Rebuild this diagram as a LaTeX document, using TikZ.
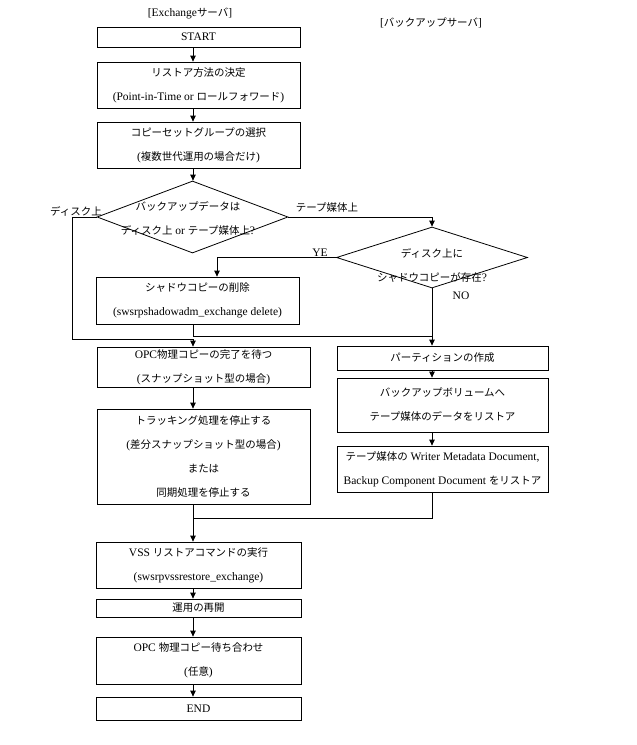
\documentclass[tikz,border=0pt]{standalone}
\usepackage{fontspec}
\setmainfont{Liberation Serif}
\newfontfamily\jp{Noto Sans CJK JP}[Scale=0.91]
\usetikzlibrary{shapes.geometric,arrows.meta}
\begin{document}
\begin{tikzpicture}[x=1pt,y=-1pt,
  every node/.style={font=\fontsize{11.5}{24}\selectfont},
  stepbox/.style={draw,line width=0.8pt,inner sep=0pt,align=center},
  decide/.style={draw,line width=0.8pt,shape=diamond,inner sep=0pt},
  lbl/.style={inner sep=0pt,align=center},
  conn/.style={line width=0.8pt},
  arr/.style={line width=0.8pt,-{Triangle[length=6pt,width=5.5pt]}}]
\useasboundingbox (0,0) rectangle (637,745);
\coordinate (cl) at (193,0);
\coordinate (cr) at (432,0);
\coordinate (cy) at (217,0);
% headers
\node[lbl] (h1) at (190,13) {[Exchange{\jp サーバ}]};
\node[lbl] (h2) at (431,23) {[{\jp バックアップサーバ}]};
% left column
\node[stepbox,minimum width=203pt,minimum height=20pt] (start) at (198.5,37) {START};
\node[stepbox,minimum width=203pt,minimum height=46pt] (b2) at (198.5,85) {{\jp リストア方法の決定}\\(Point-in-Time or {\jp ロールフォワード})};
\node[stepbox,minimum width=203pt,minimum height=46pt] (b3) at (198.5,145) {{\jp コピーセットグループの選択}\\({\jp 複数世代運用の場合だけ})};
\node[decide,minimum width=191pt,minimum height=72pt] (d1) at (192.5,217) {};
\node[lbl] (d1t) at (188,218.5) {{\jp バックアップデータは}\\{\jp ディスク上} or {\jp テープ媒体上}?};
\node[decide,minimum width=191pt,minimum height=61pt] (d2) at (432,257.5) {};
\node[lbl] (d2t) at (432,265.5) {{\jp ディスク上に}\\{\jp シャドウコピーが存在}?};
\node[stepbox,minimum width=203pt,minimum height=47pt] (sd) at (197.5,300.5) {{\jp シャドウコピーの削除}\\(swsrpshadowadm\_exchange delete)};
\node[stepbox,minimum width=213pt,minimum height=40pt] (opc) at (203.5,367) {OPC{\jp 物理コピーの完了を待つ}\\({\jp スナップショット型の場合})};
\node[stepbox,minimum width=213pt,minimum height=95pt] (track) at (203.5,456.5) {{\jp トラッキング処理を停止する}\\({\jp 差分スナップショット型の場合})\\{\jp または}\\{\jp 同期処理を停止する}};
% right column
\node[stepbox,minimum width=211pt,minimum height=24pt] (part) at (442.5,358) {{\jp パーティションの作成}};
\node[stepbox,minimum width=211pt,minimum height=54pt] (bvol) at (442.5,405) {{\jp バックアップボリュームへ}\\{\jp テープ媒体のデータをリストア}};
\node[stepbox,minimum width=211pt,minimum height=46pt] (wmd) at (442.5,469) {{\jp テープ媒体の} Writer Metadata Document,\\Backup Component Document {\jp をリストア}};
% lower left
\node[stepbox,minimum width=205pt,minimum height=46pt] (vss) at (198.5,565) {VSS {\jp リストアコマンドの実行}\\(swsrpvssrestore\_exchange)};
\node[stepbox,minimum width=205pt,minimum height=18pt] (resume) at (198.5,608) {{\jp 運用の再開}};
\node[stepbox,minimum width=205pt,minimum height=47pt] (opcw) at (198.5,660.5) {OPC {\jp 物理コピー待ち合わせ}\\({\jp 任意})};
\node[stepbox,minimum width=205pt,minimum height=23pt] (end) at (198.5,708.5) {END};
% labels
\node[lbl] (ldisk) at (76,211) {{\jp ディスク上}};
\node[lbl] (ltape) at (327,208) {{\jp テープ媒体上}};
\node[lbl] (lye) at (320,253) {YE};
\node[lbl] (lno) at (461,296) {NO};
% join points
\coordinate (jL) at (72,339);
\coordinate (jR) at (432,336);
\coordinate (jB) at (193,518);
% connectors
\draw[arr] (start.south -| cl) -- (b2.north -| cl);
\draw[arr] (b2.south -| cl) -- (b3.north -| cl);
\draw[arr] (b3.south -| cl) -- (d1.north -| cl);
\draw[arr] (d1.west) -| (jL) -| (opc.north -| cl);
\draw[arr] (d1.east) -| (d2.north);
\draw[arr] (d2.west) -| (sd.north -| cy);
\draw[conn] (sd.south -| cl) |- (jR);
\draw[arr] (d2.south) -- (part.north -| cr);
\draw[arr] (part.south -| cr) -- (bvol.north -| cr);
\draw[arr] (bvol.south -| cr) -- (wmd.north -| cr);
\draw[conn] (wmd.south -| cr) |- (jB);
\draw[arr] (opc.south -| cl) -- (track.north -| cl);
\draw[arr] (track.south -| cl) -- (vss.north -| cl);
\draw[arr] (vss.south -| cl) -- (resume.north -| cl);
\draw[arr] (resume.south -| cl) -- (opcw.north -| cl);
\draw[arr] (opcw.south -| cl) -- (end.north -| cl);
\end{tikzpicture}
\end{document}
